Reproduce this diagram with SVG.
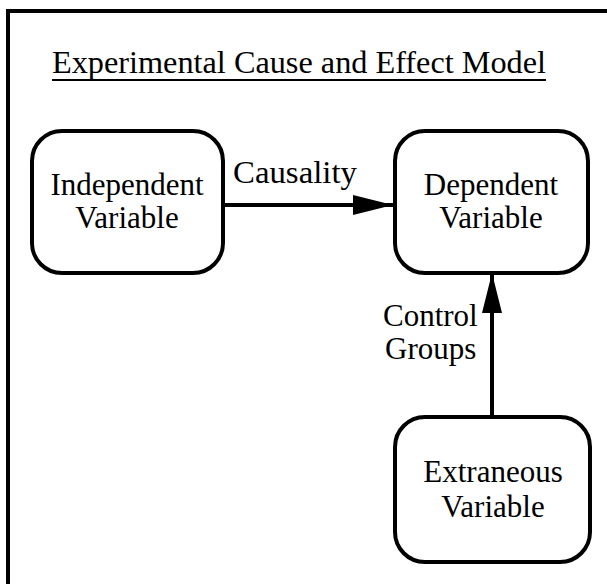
<svg xmlns="http://www.w3.org/2000/svg" width="607" height="584" viewBox="0 0 607 584">
<defs>
<style>
.box{fill:#fff;stroke:#000;stroke-width:4}
.t{font-family:"Liberation Serif","Times New Roman",serif;font-size:31px;fill:#000}
.c{text-anchor:middle}
.ln{stroke:#000;stroke-width:4;fill:none}
</style>
<marker id="ah" viewBox="0 0 40 20" refX="40" refY="10" markerWidth="40" markerHeight="20" markerUnits="userSpaceOnUse" orient="auto">
<path d="M0,0 L40,10 L0,20 Z" fill="#000"/>
</marker>
</defs>
<rect width="607" height="584" fill="#fff"/>
<path d="M8,590 V11 H612" class="ln"/>
<g id="title">
<text x="52" y="73" class="t" style="font-size:32px" textLength="494" lengthAdjust="spacingAndGlyphs">Experimental Cause and Effect Model</text>
<line x1="52" y1="80" x2="546" y2="80" stroke="#000" stroke-width="2"/>
</g>
<g id="connectors">
<line x1="223" y1="205" x2="393" y2="205" class="ln" marker-end="url(#ah)"/>
<line x1="492" y1="417" x2="492" y2="273" class="ln" marker-end="url(#ah)"/>
<text x="233" y="183" class="t" textLength="124" lengthAdjust="spacingAndGlyphs">Causality</text>
<text x="383" y="326" class="t">Control</text>
<text x="385" y="359" class="t">Groups</text>
</g>
<g id="independent">
<rect x="32" y="131" width="191" height="142" rx="30" class="box"/>
<text x="127" y="195" class="t c">Independent</text>
<text x="127" y="228" class="t c">Variable</text>
</g>
<g id="dependent">
<rect x="395" y="131" width="193" height="142" rx="30" class="box"/>
<text x="491" y="195" class="t c">Dependent</text>
<text x="491" y="228" class="t c">Variable</text>
</g>
<g id="extraneous">
<rect x="395" y="417" width="195" height="145" rx="30" class="box"/>
<text x="493" y="482" class="t c">Extraneous</text>
<text x="493" y="517" class="t c">Variable</text>
</g>
</svg>
